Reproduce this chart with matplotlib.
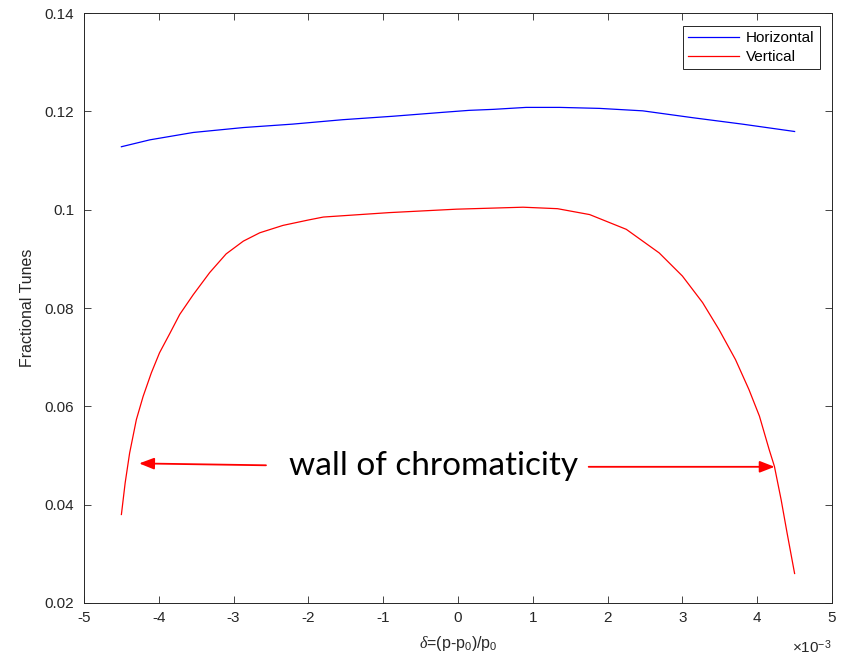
import matplotlib
matplotlib.use("Agg")
import matplotlib.pyplot as plt
import numpy as np

plt.rcParams['font.family'] = ['Liberation Sans', 'DejaVu Sans']
plt.rcParams['mathtext.fontset'] = 'custom'
plt.rcParams['mathtext.rm'] = 'Liberation Sans'
plt.rcParams['mathtext.it'] = 'Liberation Serif:italic'

# delta in units of 1e-3
delta_h = [-4.5, -4.12, -3.54, -2.87, -2.21, -1.54, -0.87, -0.20, 0.15, 0.47,
           0.91, 1.36, 1.89, 2.47, 3.14, 3.80, 4.5]
tune_h = [0.1128, 0.1142, 0.1157, 0.1167, 0.1174, 0.1183, 0.1190, 0.1198, 0.1202, 0.1204,
          0.1208, 0.1208, 0.1206, 0.1201, 0.1187, 0.1174, 0.1159]

delta_v = [-4.5, -4.45, -4.39, -4.30, -4.21, -4.10, -3.99, -3.85, -3.72, -3.54, -3.32,
           -3.10, -2.87, -2.65, -2.34, -2.00, -1.80, -0.92, -0.02, 0.87, 1.33, 1.76,
           2.25, 2.69, 3.00, 3.27, 3.49, 3.71, 3.89, 4.03, 4.16, 4.23, 4.32, 4.40, 4.5]
tune_v = [0.0380, 0.0444, 0.0505, 0.0573, 0.0620, 0.0668, 0.0709, 0.0749, 0.0787, 0.0827,
          0.0872, 0.0910, 0.0936, 0.0953, 0.0968, 0.0979, 0.0985, 0.0994, 0.1001, 0.1005,
          0.1002, 0.0990, 0.0960, 0.0912, 0.0865, 0.0811, 0.0756, 0.0695, 0.0634, 0.0580,
          0.0512, 0.0478, 0.0410, 0.0342, 0.0260]

x_ticks = [-5, -4, -3, -2, -1, 0, 1, 2, 3, 4, 5]
y_ticks = [0.02, 0.04, 0.06, 0.08, 0.10, 0.12, 0.14]
y_tick_labels = ['0.02', '0.04', '0.06', '0.08', '0.1', '0.12', '0.14']

scale = 1e-3
axcol = (0.15, 0.15, 0.15)

fig = plt.figure(figsize=(8.44, 6.64), dpi=100)
ax = fig.add_axes([84 / 844, 61 / 664, 748 / 844, 590 / 664])

ax.plot(np.array(delta_h) * scale, tune_h, color='#0000ff', lw=0.9, label='Horizontal')
ax.plot(np.array(delta_v) * scale, tune_v, color='#ff0000', lw=0.9, label='Vertical')

ax.set_xlim(-5 * scale, 5 * scale)
ax.set_ylim(0.02, 0.14)
ax.set_xticks(np.array(x_ticks) * scale)
ax.set_xticklabels([str(t) for t in x_ticks])
ax.set_yticks(y_ticks)
ax.set_yticklabels(y_tick_labels)
ax.tick_params(direction='in', length=5, width=0.6, colors=axcol, labelsize=11,
               top=True, right=True, pad=6)
ax.tick_params(axis='y', pad=7)
for s in ax.spines.values():
    s.set_color(axcol)
    s.set_linewidth(0.7)

ax.set_ylabel('Fractional Tunes', fontsize=11.5, color=axcol, labelpad=7)
ax.set_xlabel(r'$\mathit{\delta}$=(p-p$_0$)/p$_0$', fontsize=11.5, color=axcol, labelpad=6)
ax.text(1.0, -0.075, r'$\times$10$^{-3}$', transform=ax.transAxes, ha='right', va='center',
        fontsize=11, color=axcol)

leg = ax.legend(loc='upper right', bbox_to_anchor=(0.984, 0.978), borderaxespad=0,
                fontsize=11, handlelength=3.3, handletextpad=0.5, borderpad=0.35,
                labelspacing=0.3, fancybox=False, edgecolor=axcol, framealpha=1)
leg.get_frame().set_linewidth(0.7)

# annotation
ax.text(-0.33 * scale, 0.0478, 'wall of chromaticity', fontsize=24, ha='center', va='center',
        family=['Lato', 'DejaVu Sans'], color='black')
ax.annotate('', xy=(-4.30 * scale, 0.0484), xytext=(-2.53 * scale, 0.0480),
            arrowprops=dict(arrowstyle='-|>,head_length=0.9,head_width=0.35', color='red', lw=1.3))
ax.annotate('', xy=(4.27 * scale, 0.0477), xytext=(1.71 * scale, 0.0477),
            arrowprops=dict(arrowstyle='-|>,head_length=0.9,head_width=0.35', color='red', lw=1.3))

fig.savefig('out.png', dpi=100)
